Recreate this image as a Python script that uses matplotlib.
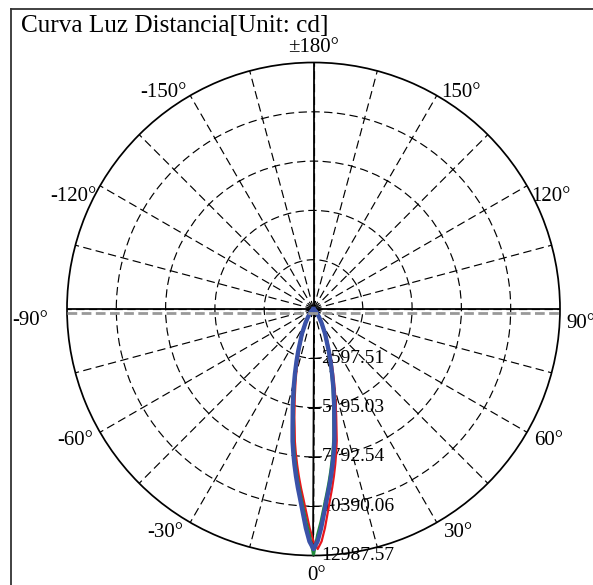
import numpy as np
import matplotlib
matplotlib.use("Agg")
import matplotlib.pyplot as plt
from matplotlib.lines import Line2D

plt.rcParams['lines.scale_dashes'] = False
SERIF = ['Liberation Serif', 'DejaVu Serif']

# ---------------- data ----------------
title = "Curva Luz Distancia[Unit: cd]"
r_max = 12987.57
ring_values = [2597.51, 5195.03, 7792.54, 10390.06, 12987.57]
angle_labels = [0, 30, 60, 90, 120, 150, 180, -150, -120, -90, -60, -30]

gamma = [0, 1, 2, 3, 4, 5, 6, 7, 8, 9, 10, 12, 14, 16, 18, 20, 25, 30, 35, 40, 50, 60, 70, 80, 90]
blue_cd = [12650, 12250, 11550, 10750, 10050, 9450, 8850, 8250, 7650, 7050, 6350, 5250,
           4350, 3550, 2900, 2350, 1450, 850, 500, 280, 90, 30, 10, 3, 0]
red_right_cd = [12250, 12650, 12250, 11550, 10750, 10050, 9450, 8850, 8250, 7650, 7050, 5750,
                4750, 3900, 3200, 2600, 1600, 950, 560, 320, 100, 35, 12, 4, 0]
red_left_cd = [12250, 11550, 10750, 10050, 9450, 8850, 8250, 7650, 7050, 6350, 5800, 4750,
               3900, 3200, 2600, 2150, 1300, 760, 450, 250, 80, 25, 8, 2, 0]
green_cd = [12987.57, 11900, 11200, 10450, 9800, 9200, 8600, 8000, 7400, 6800, 6100, 5050,
            4200, 3400, 2800, 2250, 1400, 820, 480, 270, 85, 28, 9, 3, 0]

# ---------------- layout ----------------
W, H = 593, 585
cx, cy, Rpx = 313.5, 309.0, 246.5

fig = plt.figure(figsize=(W / 100, H / 100), dpi=100)
ax = fig.add_axes([(cx - Rpx) / W, (H - cy - Rpx) / H, 2 * Rpx / W, 2 * Rpx / H],
                  projection='polar')
ax.set_theta_zero_location('S')
ax.set_theta_direction(1)
ax.set_ylim(0, r_max)
ax.set_rgrids(ring_values[:-1], labels=[''] * (len(ring_values) - 1))
ax.set_thetagrids(np.arange(0, 360, 15), labels=[''] * 24)
ax.tick_params(length=0)
ax.grid(True, color='black', linestyle=(0, (6.0, 3.2)), linewidth=0.85)
ax.spines['polar'].set_linewidth(1.25)
ax.set_facecolor('white')

# solid main axes
for th in [0, 90, 180, 270]:
    ax.plot([np.radians(th)] * 2, [0, r_max], color='black', lw=1.3, zorder=2)

# gray dashed horizontal line slightly below the 90 line
fig.add_artist(Line2D([(cx - Rpx) / W, (cx + Rpx) / W], [(H - cy - 3.5) / H] * 2,
                      color='#999999', lw=2.0, linestyle=(0, (7.0, 3.2)), zorder=1.5))

# curves
g = np.array(gamma, dtype=float)
th_sym = np.radians(np.concatenate([-g[::-1], g[1:]]))
blue = np.concatenate([np.array(blue_cd)[::-1], np.array(blue_cd)[1:]])
red = np.concatenate([np.array(red_left_cd)[::-1], np.array(red_right_cd)[1:]])
green = np.concatenate([np.array(green_cd)[::-1], np.array(green_cd)[1:]])
ax.plot(th_sym, red, color='#e8161d', lw=1.6, zorder=3)
ax.plot(th_sym, green, color='#1f8a3b', lw=2.0, zorder=4)
ax.plot(th_sym, blue, color='#3a52a8', lw=3.1, zorder=5)

# ring ticks and labels along the 0 axis
for v in ring_values:
    ax.plot(0, v, marker='_', markersize=9, mew=0.7, color='black', zorder=2.5)
    ax.annotate(f"{v:.2f}", xy=(0, v), xytext=(8, 0), textcoords='offset pixels',
                ha='left', va='center', fontsize=14, family=SERIF,
                annotation_clip=False, zorder=2.6)

# angle labels: offsets in pixels (x right, y up)
offs = {0: (3, -20, 'center'), 30: (7, -10, 'left'), 60: (7, -8, 'left'),
        90: (6, -14, 'left'), 120: (4, -11, 'left'), 150: (4, 3, 'left'),
        180: (0, 15, 'center'), -150: (-4, 3, 'right'), -120: (-4, -11, 'right'),
        -90: (-19, -12, 'right'), -60: (-7, -8, 'right'), -30: (-7, -10, 'right')}
for a in angle_labels:
    txt = "±180°" if a == 180 else f"{a}°"
    dx, dy, ha = offs[a]
    ax.annotate(txt, xy=(np.radians(a), r_max), xytext=(dx, dy), textcoords='offset pixels',
                ha=ha, va='center', fontsize=15, family=SERIF, annotation_clip=False)

# frame (extends beyond the image on right and bottom)
fig.add_artist(Line2D([10.5 / W, 1.0], [1 - 8.5 / H] * 2, color='#333333', lw=1.3))
fig.add_artist(Line2D([10.5 / W] * 2, [0.0, 1 - 8.5 / H], color='#333333', lw=1.3))

fig.text(21 / W, 1 - 32 / H, title, ha='left', va='baseline', fontsize=18.2, family=SERIF)

fig.savefig('out.png', dpi=100, facecolor='white')
